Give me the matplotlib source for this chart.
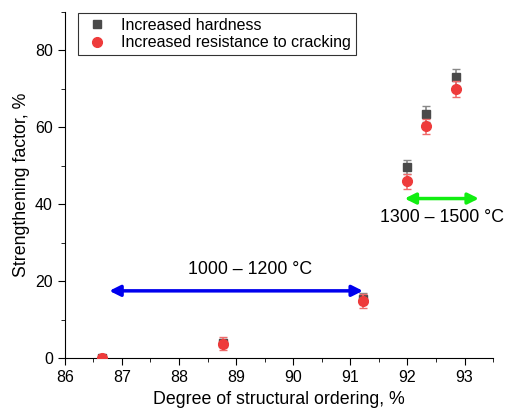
import numpy as np
import matplotlib
matplotlib.use('Agg')
import matplotlib.pyplot as plt
from matplotlib.ticker import MultipleLocator
from matplotlib.lines import Line2D

plt.rcParams['font.family'] = ['Liberation Sans', 'DejaVu Sans']

# ── data ─────────────────────────────────────────────
x_hard = [86.65, 88.77, 91.22, 92.0, 92.33, 92.85]
y_hard = [0.0, 4.0, 15.5, 49.7, 63.5, 73.0]
e_hard = [0.5, 1.0, 1.5, 1.8, 2.0, 2.3]

x_crack = [86.65, 88.77, 91.22, 92.0, 92.33, 92.85]
y_crack = [0.0, 3.8, 14.8, 46.0, 60.3, 70.0]
e_crack = [0.5, 1.6, 1.8, 2.0, 2.0, 2.0]

GRAY = '#4a4a4a'
RED = '#ee3b3b'

fig = plt.figure(figsize=(5.10, 4.15), dpi=100)
ax = fig.add_axes([0.127, 0.137, 0.840, 0.834])

ax.errorbar(x_hard, y_hard, yerr=e_hard, fmt='none', ecolor='#888888',
            elinewidth=1.2, capsize=3, zorder=2)
ax.plot(x_hard, y_hard, 's', color=GRAY, ms=6, zorder=3)
ax.errorbar(x_crack, y_crack, yerr=e_crack, fmt='none', ecolor='#ee6b6b',
            elinewidth=1.2, capsize=3, zorder=4)
ax.plot(x_crack, y_crack, 'o', color=RED, ms=7, zorder=5)

# range arrows
ax.annotate('', xy=(86.78, 17.5), xytext=(91.22, 17.5),
            arrowprops=dict(arrowstyle='<|-|>', color='#0000ee', lw=2.5,
                            mutation_scale=16, shrinkA=0, shrinkB=0))
ax.text(89.25, 23, '1000 – 1200 °C', ha='center', va='center', fontsize=12.8)

ax.annotate('', xy=(91.95, 41.5), xytext=(93.25, 41.5),
            arrowprops=dict(arrowstyle='<|-|>', color='#11ee11', lw=2.5,
                            mutation_scale=16, shrinkA=0, shrinkB=0))
ax.text(92.6, 36.6, '1300 – 1500 °C', ha='center', va='center', fontsize=12.8)

ax.set_xlim(86, 93.5)
ax.set_ylim(0, 90)
ax.xaxis.set_major_locator(MultipleLocator(1))
ax.xaxis.set_minor_locator(MultipleLocator(0.5))
ax.yaxis.set_major_locator(MultipleLocator(20))
ax.yaxis.set_minor_locator(MultipleLocator(10))
ax.tick_params(which='major', length=5, labelsize=11.5)
ax.tick_params(which='minor', length=3)
for s in ('top', 'right'):
    ax.spines[s].set_visible(False)

ax.set_xlabel('Degree of structural ordering, %', fontsize=12.8)
ax.set_ylabel('Strengthening factor, %', fontsize=12.8)

handles = [Line2D([], [], ls='none', marker='s', color=GRAY, ms=6),
           Line2D([], [], ls='none', marker='o', color=RED, ms=7)]
leg = ax.legend(handles, ['Increased hardness', 'Increased resistance to cracking'],
                loc='upper left', bbox_to_anchor=(0.012, 1.02), fontsize=11.5,
                frameon=True, fancybox=False, edgecolor='black',
                handletextpad=0.6, borderpad=0.3, labelspacing=0.15,
                handlelength=1.8)
leg.get_frame().set_linewidth(0.8)

fig.savefig('out.png', dpi=100)
